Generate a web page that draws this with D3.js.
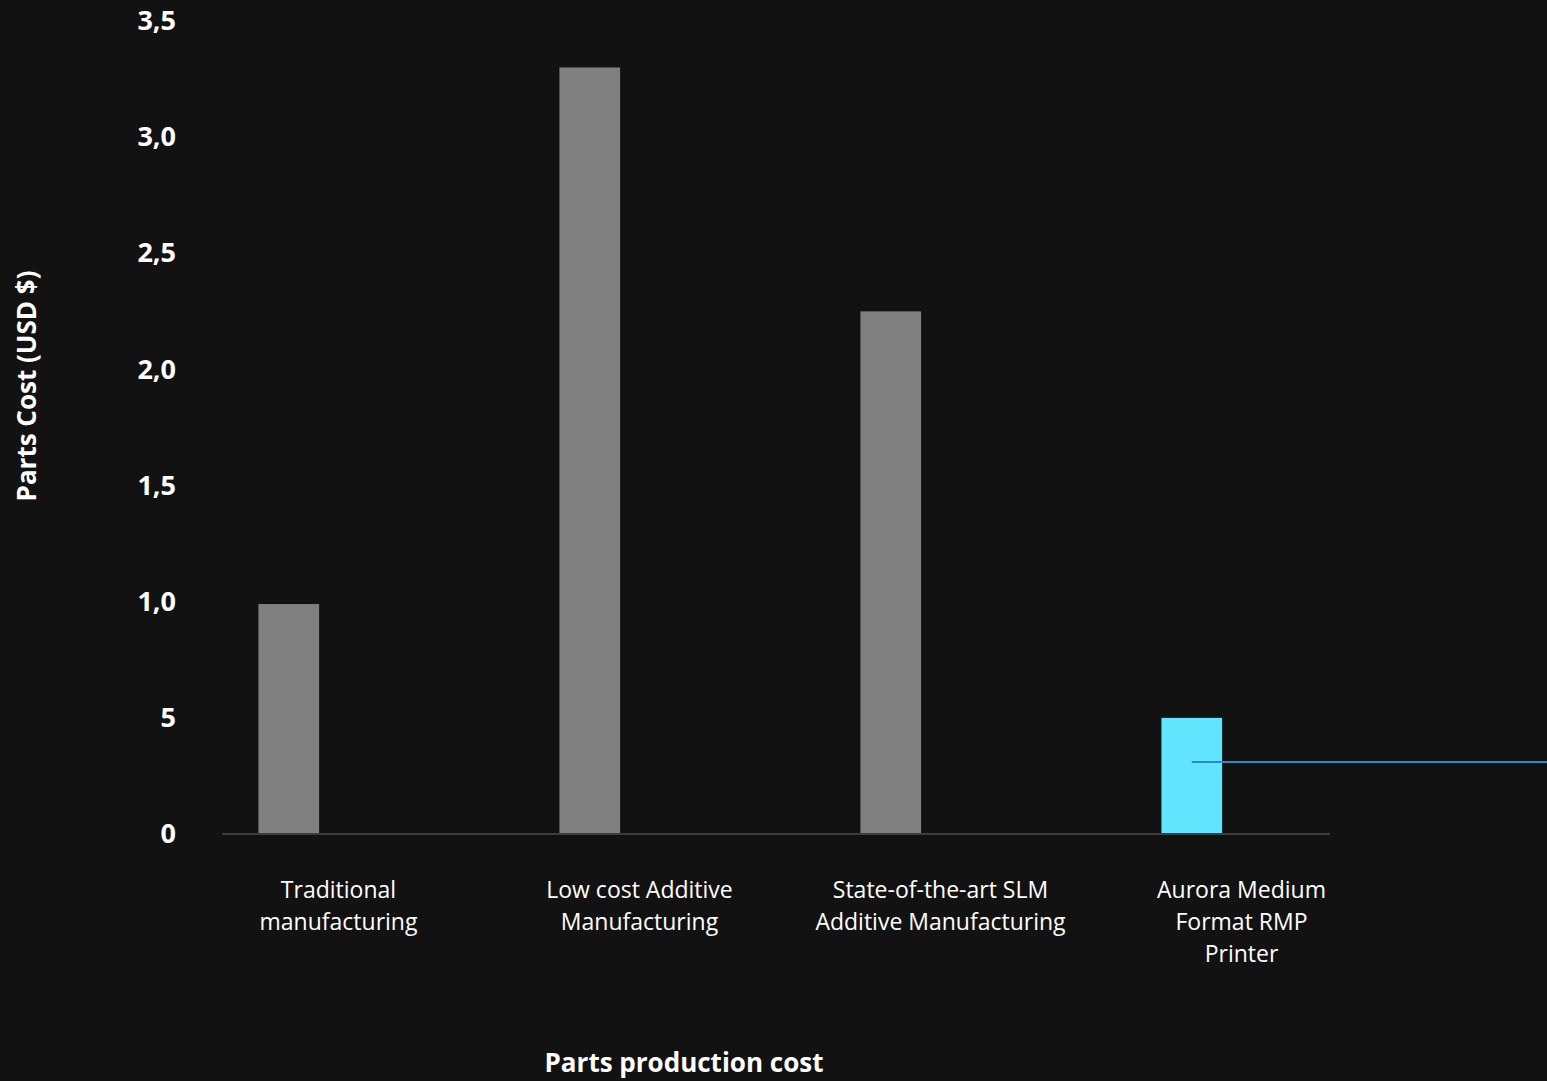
<!DOCTYPE html>
<html>
<head>
<meta charset="utf-8">
<script src="https://cdn.jsdelivr.net/npm/d3@7"></script>
<style>
  html, body { margin: 0; padding: 0; background: #121212; }
  svg { display: block; font-family: "Open Sans", "Noto Sans", sans-serif; }
</style>
</head>
<body>
<div id="chart"></div>
<script>
// categories and values
const categories = [
  "Traditional manufacturing",
  "Low cost Additive Manufacturing",
  "State-of-the-art SLM Additive Manufacturing",
  "Aurora Medium Format RMP Printer"
];
const categoryLines = [
  ["Traditional", "manufacturing"],
  ["Low cost Additive", "Manufacturing"],
  ["State-of-the-art SLM", "Additive Manufacturing"],
  ["Aurora Medium", "Format RMP", "Printer"]
];
const costValues = [0.99, 3.30, 2.25, 0.50];
const highlightCategory = "Aurora Medium Format RMP Printer";
const referenceValue = 0.31;
const yTickValues = [0, 0.5, 1.0, 1.5, 2.0, 2.5, 3.0, 3.5];
const yTickLabels = ["0", "5", "1,0", "1,5", "2,0", "2,5", "3,0", "3,5"];

const width = 1547, height = 1081;
const plotLeft = 222, plotRight = 1330;

const svg = d3.select("#chart").append("svg")
    .attr("width", width)
    .attr("height", height);

svg.append("rect")
    .attr("width", width)
    .attr("height", height)
    .attr("fill", "#121212");

const y = d3.scaleLinear()
    .domain([0, 3.5])
    .range([834, 21]);

// outer band per category, inner band holds the cost bar on the left
const x = d3.scaleBand()
    .domain(categories)
    .range([188, 1392])
    .paddingInner(0.468)
    .paddingOuter(0.234);

const x1 = d3.scaleBand()
    .domain(["cost", "spare"])
    .range([0, x.bandwidth()])
    .paddingInner(0.39);

// y axis labels
const yAxis = svg.append("g")
    .attr("transform", `translate(${plotLeft},0)`)
    .call(d3.axisLeft(y)
        .tickValues(yTickValues)
        .tickFormat((d, i) => yTickLabels[i])
        .tickSize(0)
        .tickPadding(46));

yAxis.select(".domain").remove();
yAxis.selectAll("text")
    .attr("fill", "#ffffff")
    .style("font-size", "27px")
    .style("font-weight", "bold")
    .style("font-family", "'Open Sans', sans-serif");

// bars
svg.append("g").selectAll("rect")
    .data(categories)
    .join("rect")
    .attr("x", (d) => x(d) + x1("cost"))
    .attr("y", (d, i) => y(costValues[i]))
    .attr("width", x1.bandwidth())
    .attr("height", (d, i) => y(0) - y(costValues[i]))
    .attr("fill", (d) => d === highlightCategory ? "#61e5ff" : "#808080");

// baseline
svg.append("line")
    .attr("x1", plotLeft)
    .attr("x2", plotRight)
    .attr("y1", y(0))
    .attr("y2", y(0))
    .attr("stroke", "#3d3d3d")
    .attr("stroke-width", 2);

// reference line running out of the highlighted bar
svg.append("line")
    .attr("x1", x(highlightCategory) + x1("cost") + x1.bandwidth() / 2)
    .attr("x2", width)
    .attr("y1", y(referenceValue))
    .attr("y2", y(referenceValue))
    .attr("stroke", "#2b8bc6")
    .attr("stroke-width", 2);

// category labels
const labels = svg.append("g").selectAll("text")
    .data(categories)
    .join("text")
    .attr("x", (d) => x(d) + x.bandwidth() / 2)
    .attr("y", 898)
    .attr("text-anchor", "middle")
    .attr("fill", "#ffffff")
    .style("font-size", "23px");

labels.selectAll("tspan")
    .data((d, i) => categoryLines[i])
    .join("tspan")
    .attr("x", function () { return d3.select(this.parentNode).attr("x"); })
    .attr("dy", (d, i) => i === 0 ? 0 : 32)
    .text((d) => d);

// axis titles
svg.append("text")
    .attr("transform", "translate(36,386) rotate(-90)")
    .attr("text-anchor", "middle")
    .attr("fill", "#ffffff")
    .style("font-size", "26px")
    .style("font-weight", "bold")
    .text("Parts Cost (USD $)");

svg.append("text")
    .attr("x", 684)
    .attr("y", 1072)
    .attr("text-anchor", "middle")
    .attr("fill", "#ffffff")
    .style("font-size", "26px")
    .style("font-weight", "bold")
    .text("Parts production cost");
</script>
</body>
</html>
